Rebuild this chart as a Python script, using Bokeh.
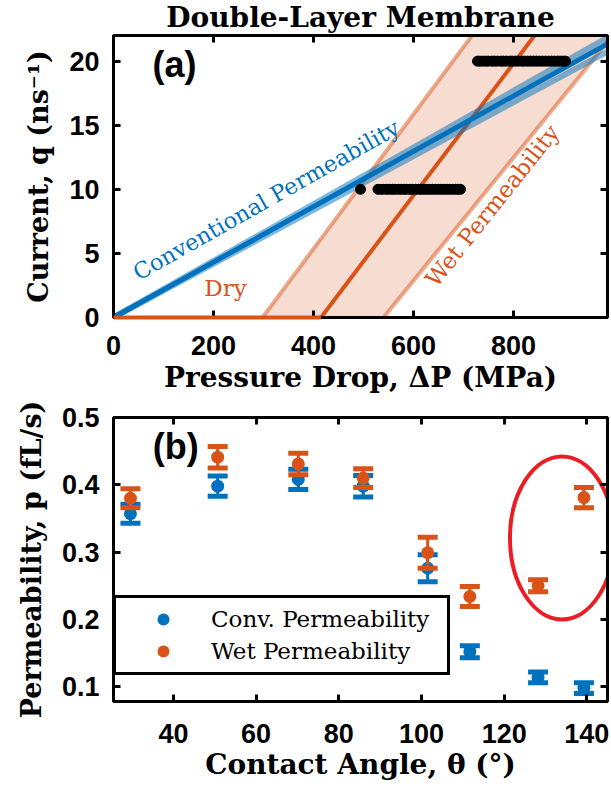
from bokeh.plotting import figure
from bokeh.layouts import column
from bokeh.models import Range1d, LinearAxis, Label, Legend, LegendItem, FixedTicker, Title
from bokeh.embed import file_html
from bokeh.resources import INLINE

BLUE = "#0072bd"
ORANGE = "#d95319"
RED = "#ec1c24"
SERIF = "DejaVu Serif"
SANS = "Liberation Sans"

# ---------------- (a) current vs pressure drop ----------------
pressure_ticks = [0, 200, 400, 600, 800]
current_ticks = [0, 5, 10, 15, 20]

# conventional (linear) permeability fit and its uncertainty band
conv_slope = 0.0216
conv_slope_band = [0.0210, 0.0221]

# wet permeability: dry below the onset pressure, linear above it
wet_onset = 415
wet_slope = 0.0515
wet_band_onset = [298, 540]
wet_band_slope = [0.0525, 0.048]

# simulation runs at two imposed currents
sim_current_low = 10
sim_pressure_low = [494, 529, 535, 540, 547, 552, 558, 563, 570, 575, 581, 586,
                    593, 598, 604, 610, 615, 621, 627, 632, 638, 644, 650, 655,
                    661, 667, 672, 678, 684, 689, 694]
sim_current_high = 20
sim_pressure_high = [728, 733, 739, 745, 750, 757, 762, 768, 775, 780, 786, 793,
                     798, 804, 810, 817, 822, 828, 834, 840, 846, 852, 858, 864,
                     870, 876, 882, 888, 893, 899, 904]

# ---------------- (b) permeability vs contact angle ----------------
angle_ticks = [40, 60, 80, 100, 120, 140]
perm_ticks = [0.1, 0.2, 0.3, 0.4, 0.5]
contact_angle = [29.6, 50.7, 70.2, 85.9, 101.5, 111.7, 128.2, 139.3]
conv_perm = [0.357, 0.398, 0.408, 0.398, 0.276, 0.152, 0.114, 0.098]
conv_perm_err = [0.014, 0.015, 0.015, 0.016, 0.020, 0.009, 0.008, 0.008]
wet_perm = [0.380, 0.441, 0.431, 0.410, 0.299, 0.234, 0.250, 0.381]
wet_perm_err = [0.014, 0.016, 0.016, 0.014, 0.023, 0.015, 0.009, 0.015]


def style_axis(ax, show_labels):
    ax.major_tick_in = 7
    ax.major_tick_out = 0
    ax.major_tick_line_width = 3
    ax.minor_tick_line_color = None
    ax.axis_line_width = 3
    ax.major_label_text_font = SANS
    ax.major_label_text_font_style = "bold"
    ax.major_label_text_color = "black"
    ax.axis_label_text_font = SERIF
    ax.axis_label_text_font_style = "bold"
    ax.axis_label_text_font_size = "28px"
    ax.axis_label_text_color = "black"
    if show_labels:
        ax.major_label_text_font_size = "27px"
    else:
        ax.major_label_text_font_size = "1px"
        ax.major_label_text_color = None
        ax.major_label_standoff = 0


def box_axes(p, xticks, yticks, xlabel, ylabel, tick_gap, label_gap):
    p.grid.visible = False
    p.outline_line_color = "black"
    p.outline_line_width = 3
    bottom = LinearAxis(ticker=FixedTicker(ticks=xticks), axis_label=xlabel)
    left = LinearAxis(ticker=FixedTicker(ticks=yticks), axis_label=ylabel)
    top = LinearAxis(ticker=FixedTicker(ticks=xticks))
    right = LinearAxis(ticker=FixedTicker(ticks=yticks))
    for ax, shown in ((bottom, True), (left, True), (top, False), (right, False)):
        style_axis(ax, shown)
    bottom.major_label_standoff = tick_gap
    bottom.axis_label_standoff = label_gap
    left.major_label_standoff = 14
    left.axis_label_standoff = 12
    left.axis_label_text_font_size = "27px"
    p.add_layout(bottom, "below")
    p.add_layout(left, "left")
    p.add_layout(top, "above")
    p.add_layout(right, "right")


# ---------------- panel (a) ----------------
p1 = figure(width=611, height=396, x_range=Range1d(0, 988), y_range=Range1d(0, 22),
            x_axis_location=None, y_axis_location=None,
            output_backend="svg", toolbar_location=None,
            min_border_left=113, min_border_right=4, min_border_top=35, min_border_bottom=76)
p1.title = Title(text="Double-Layer Membrane", align="center", text_font=SERIF,
                 text_font_style="bold", text_font_size="28px", text_color="black",
                 standoff=0, offset=0, vertical_align="top")
box_axes(p1, pressure_ticks, current_ticks,
         "Pressure Drop, ΔP (MPa)", "Current, q (ns⁻¹)", 18, 3)

q_top = 23
lo_on, hi_on = wet_band_onset
lo_s, hi_s = wet_band_slope
p1.patch([lo_on, hi_on, hi_on + q_top / hi_s, lo_on + q_top / lo_s], [0, 0, q_top, q_top],
         fill_color=ORANGE, fill_alpha=0.2, line_color=None)
for on, s in zip(wet_band_onset, wet_band_slope):
    p1.line([on, on + q_top / s], [0, q_top], line_color=ORANGE, line_alpha=0.5, line_width=4)
# rising (wet) branch
p1.line([wet_onset, wet_onset + q_top / wet_slope], [0, q_top],
        line_color=ORANGE, line_width=4)
# dry branch sits on the bottom frame edge
p1.line([0, wet_onset], [0, 0], line_color=ORANGE, line_width=4, level="overlay")

p_max = 988
for s in conv_slope_band:
    p1.line([0, p_max], [0, s * p_max], line_color=BLUE, line_alpha=0.5, line_width=6)
p1.line([0, p_max], [0, conv_slope * p_max], line_color=BLUE, line_width=5)

p1.scatter(sim_pressure_low, [sim_current_low] * len(sim_pressure_low),
           size=10, color="black")
p1.scatter(sim_pressure_high, [sim_current_high] * len(sim_pressure_high),
           size=10, color="black")

p1.add_layout(Label(x=78, y=18.1, text="(a)", text_font=SANS, text_font_style="bold",
                    text_font_size="36px", text_color="black"))
p1.add_layout(Label(x=318, y=8.3, text="Conventional Permeability", text_align="center",
                    angle=29.5, angle_units="deg", text_font=SERIF, text_font_size="22.5px",
                    text_color=BLUE))
p1.add_layout(Label(x=778, y=8.1, text="Wet Permeability", text_align="center",
                    angle=51.5, angle_units="deg", text_font=SERIF, text_font_size="23px",
                    text_color=ORANGE))
p1.add_layout(Label(x=224, y=1.31, text="Dry", text_align="center",
                    text_font=SERIF, text_font_size="23px", text_color=ORANGE))

# ---------------- panel (b) ----------------
p2 = figure(width=611, height=395, x_range=Range1d(25.5, 145), y_range=Range1d(0.078, 0.5),
            x_axis_location=None, y_axis_location=None,
            output_backend="svg", toolbar_location=None,
            min_border_left=113, min_border_right=4, min_border_top=21, min_border_bottom=90)
box_axes(p2, angle_ticks, perm_ticks,
         "Contact Angle, θ (°)", "Permeability, p (fL/s)", 22, 2)


def error_bars(p, x, y, err, color):
    lo = [v - e for v, e in zip(y, err)]
    hi = [v + e for v, e in zip(y, err)]
    p.segment(x0=x, y0=lo, x1=x, y1=hi, line_color=color, line_width=3)
    for ends in (lo, hi):
        p.rect(x=x, y=ends, width=20, height=5, width_units="screen", height_units="screen",
               fill_color=color, line_color=None)
    return p.scatter(x, y, size=13, marker="circle", fill_color=color, line_color=None)


r_conv = error_bars(p2, contact_angle, conv_perm, conv_perm_err, BLUE)
r_wet = error_bars(p2, contact_angle, wet_perm, wet_perm_err, ORANGE)

p2.ellipse(x=134, y=0.321, width=25.2, height=0.242, fill_color=None,
           line_color=RED, line_width=4)

p2.add_layout(Label(x=35, y=0.427, text="(b)", text_font=SANS, text_font_style="bold",
                    text_font_size="36px", text_color="black"))

legend = Legend(items=[LegendItem(label="Conv. Permeability", renderers=[r_conv]),
                       LegendItem(label="Wet Permeability", renderers=[r_wet])],
                location=(0, 26), border_line_color="black", border_line_width=3,
                border_line_alpha=1.0,
                padding=6, spacing=2, glyph_width=82, glyph_height=30, label_height=30,
                label_standoff=7, label_width=230, label_text_font=SERIF,
                label_text_font_size="23px", label_text_color="black",
                background_fill_alpha=1.0, margin=0)
p2.add_layout(legend)

layout = column(p1, p2, spacing=0)
open("out.html", "w").write(file_html(layout, INLINE))
